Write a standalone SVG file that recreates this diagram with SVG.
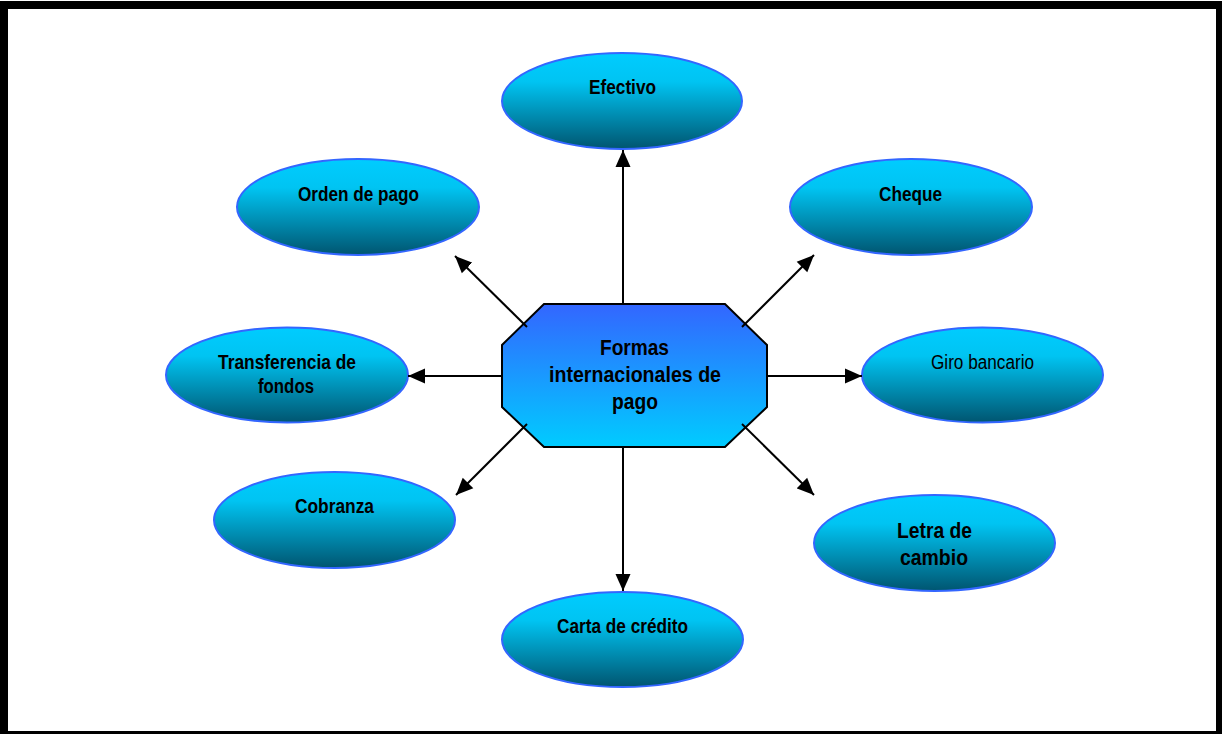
<svg xmlns="http://www.w3.org/2000/svg" width="1222" height="734" viewBox="0 0 1222 734">
<style>
.oval{fill:url(#gOval);stroke:#3366FF;stroke-width:2}
.oct{fill:url(#gOct);stroke:#000;stroke-width:2}
.lbl{font-family:"Liberation Sans Narrow","Liberation Sans",Arial,sans-serif;font-size:20px;font-weight:bold;fill:#000;text-anchor:middle}
.reg{font-weight:normal}
.big{font-size:22px}
.conn line{stroke:#000;stroke-width:2;marker-end:url(#arr)}
</style>
<defs>
<linearGradient id="gOval" x1="0" y1="0" x2="0" y2="1">
<stop offset="0" stop-color="#00CCFF"/>
<stop offset="0.3" stop-color="#00C4F2"/>
<stop offset="1" stop-color="#005570"/>
</linearGradient>
<linearGradient id="gOct" x1="0" y1="0" x2="0" y2="1">
<stop offset="0" stop-color="#3366FF"/>
<stop offset="1" stop-color="#00CCFF"/>
</linearGradient>
<marker id="arr" markerUnits="userSpaceOnUse" markerWidth="17" markerHeight="16" refX="17" refY="8" orient="auto">
<path d="M0,0.5 L17,8 L0,15.5 z" fill="#000"/>
</marker>
</defs>
<rect x="0" y="0" width="1222" height="734" fill="#fff"/>
<rect x="0" y="1" width="1222" height="733" fill="#000"/>
<rect x="8" y="9" width="1208" height="722" fill="#fff"/>

<g id="n-efectivo"><ellipse class="oval" cx="622" cy="101" rx="120" ry="48"/><text class="lbl" x="622.5" y="94" textLength="67" lengthAdjust="spacingAndGlyphs">Efectivo</text></g>
<g id="n-orden"><ellipse class="oval" cx="358" cy="207" rx="121" ry="48"/><text class="lbl" x="358.5" y="201" textLength="121" lengthAdjust="spacingAndGlyphs">Orden de pago</text></g>
<g id="n-cheque"><ellipse class="oval" cx="911" cy="207" rx="121" ry="48"/><text class="lbl" x="910.5" y="201" textLength="63" lengthAdjust="spacingAndGlyphs">Cheque</text></g>
<g id="n-transferencia"><ellipse class="oval" cx="287" cy="375" rx="121" ry="47.5"/><text class="lbl" x="287" y="369" textLength="138" lengthAdjust="spacingAndGlyphs">Transferencia de</text><text class="lbl" x="286" y="393" textLength="56" lengthAdjust="spacingAndGlyphs">fondos</text></g>
<g id="n-giro"><ellipse class="oval" cx="982.5" cy="375" rx="120.5" ry="47.5"/><text class="lbl reg" x="982.5" y="369" textLength="103" lengthAdjust="spacingAndGlyphs">Giro bancario</text></g>
<g id="n-cobranza"><ellipse class="oval" cx="334.5" cy="520" rx="120.5" ry="48"/><text class="lbl" x="334.5" y="513" textLength="79" lengthAdjust="spacingAndGlyphs">Cobranza</text></g>
<g id="n-letra"><ellipse class="oval" cx="934.5" cy="543" rx="120.5" ry="48"/><text class="lbl big" x="934.5" y="538" textLength="75" lengthAdjust="spacingAndGlyphs">Letra de</text><text class="lbl big" x="934" y="565" textLength="68" lengthAdjust="spacingAndGlyphs">cambio</text></g>
<g id="n-carta"><ellipse class="oval" cx="622.5" cy="639.5" rx="120.5" ry="47.5"/><text class="lbl" x="622.5" y="633" textLength="131" lengthAdjust="spacingAndGlyphs">Carta de crédito</text></g>

<g id="n-center"><polygon class="oct" points="544,304 725,304 767,345 767,407 725,447 544,447 502,407 502,345"/>
<text class="lbl big" x="634.5" y="355" textLength="69" lengthAdjust="spacingAndGlyphs">Formas</text>
<text class="lbl big" x="635" y="382" textLength="172" lengthAdjust="spacingAndGlyphs">internacionales de</text>
<text class="lbl big" x="635" y="409" textLength="46" lengthAdjust="spacingAndGlyphs">pago</text></g>

<g id="connectors" class="conn">
<line x1="623" y1="304" x2="623" y2="150"/>
<line x1="527" y1="327" x2="455" y2="256"/>
<line x1="742" y1="327" x2="814" y2="255"/>
<line x1="502" y1="376" x2="408" y2="376"/>
<line x1="767" y1="376" x2="862" y2="376"/>
<line x1="527" y1="424" x2="456" y2="495"/>
<line x1="742" y1="424" x2="814" y2="495"/>
<line x1="623" y1="447" x2="623" y2="591"/>
</g>
</svg>
